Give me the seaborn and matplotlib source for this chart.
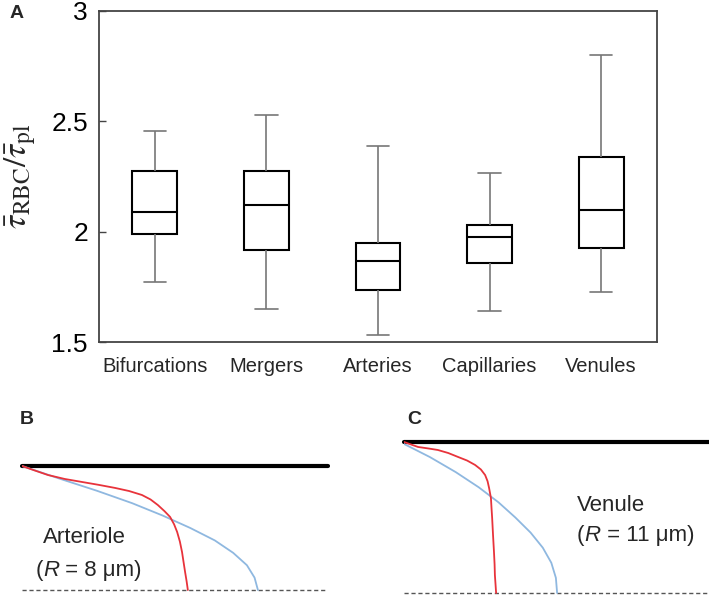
import numpy as np
import pandas as pd
import matplotlib
matplotlib.use("Agg")
import matplotlib.pyplot as plt
from matplotlib.offsetbox import TextArea, HPacker, AnnotationBbox
import seaborn as sns

# panel A: box summaries (low whisker, Q1, median, Q3, high whisker)
vessels = ["Bifurcations", "Mergers", "Arteries", "Capillaries", "Venules"]
low = [1.77, 1.65, 1.53, 1.64, 1.725]
q1 = [1.99, 1.915, 1.735, 1.86, 1.925]
med = [2.088, 2.12, 1.866, 1.975, 2.097]
q3 = [2.273, 2.273, 1.95, 2.03, 2.34]
high = [2.455, 2.53, 2.387, 2.264, 2.80]

# panel B: arteriole profiles (x = velocity, y = r/R, 1 = wall, 0 = centre)
art_rbc_x = [0, 0.04, 0.085, 0.14, 0.196, 0.25, 0.304, 0.35, 0.392, 0.42, 0.444,
             0.466, 0.484, 0.497, 0.507, 0.516, 0.523, 0.528, 0.533, 0.538, 0.542]
art_rbc_y = [1, 0.965, 0.927, 0.895, 0.871, 0.848, 0.823, 0.798, 0.766, 0.73, 0.685,
             0.635, 0.589, 0.53, 0.468, 0.39, 0.306, 0.225, 0.145, 0.07, 0]
art_pl_x = [0, 0.12, 0.245, 0.36, 0.46, 0.55, 0.63, 0.69, 0.735, 0.76, 0.771]
art_pl_y = [1, 0.9, 0.8, 0.7, 0.6, 0.5, 0.4, 0.3, 0.2, 0.1, 0]

# panel C: venule profiles
ven_rbc_x = [0, 0.046, 0.08, 0.111, 0.145, 0.177, 0.207, 0.233, 0.252, 0.266, 0.274,
             0.279, 0.285, 0.287, 0.289, 0.292, 0.295, 0.297, 0.298, 0.300, 0.302]
ven_rbc_y = [1, 0.967, 0.957, 0.947, 0.927, 0.901, 0.877, 0.848, 0.818, 0.781, 0.74,
             0.695, 0.629, 0.56, 0.497, 0.38, 0.272, 0.19, 0.119, 0.06, 0]
ven_pl_x = [0, 0.085, 0.17, 0.245, 0.31, 0.365, 0.415, 0.455, 0.483, 0.498, 0.502]
ven_pl_y = [0.987, 0.9, 0.8, 0.7, 0.6, 0.5, 0.4, 0.3, 0.2, 0.1, 0]

sns.set_style("white")
plt.rcParams["font.family"] = ["Liberation Sans", "DejaVu Sans"]
plt.rcParams["mathtext.fontset"] = "stix"

rows = []
for i, v in enumerate(vessels):
    for val in (low[i], q1[i], med[i], q3[i], high[i]):
        rows.append({"vessel": v, "ratio": val})
df = pd.DataFrame(rows)

fig = plt.figure(figsize=(7.09, 5.96), dpi=100)

# ---- A
ax = fig.add_axes([99 / 709, 1 - 342 / 596, 558 / 709, 331 / 596])
sns.boxplot(data=df, x="vessel", y="ratio", order=vessels, whis=(0, 100),
            width=0.4, color="white", linecolor="black", linewidth=1.5,
            showfliers=False, ax=ax,
            whiskerprops=dict(color="#777777", linewidth=1.2),
            capprops=dict(color="#777777", linewidth=1.2))
ax.set_ylim(1.5, 3)
ax.set_xlim(-0.5, 4.5)
ax.set_yticks([1.5, 2, 2.5, 3])
ax.set_yticklabels(["1.5", "2", "2.5", "3"], fontsize=19)
ax.tick_params(axis="y", direction="in", length=5, width=1, pad=8, colors="#444444",
               labelcolor="black", left=True)
ax.tick_params(axis="x", length=0, pad=11, labelsize=14.5)
ax.set_xlabel("")
ax.set_ylabel(r"$\bar{\tau}_{\rm RBC}/\bar{\tau}_{\rm pl}$", fontsize=24)
ax.yaxis.set_label_coords(-0.11, 0.5)
for s in ax.spines.values():
    s.set_visible(True)
    s.set_color("#444444")
    s.set_linewidth(1.3)

fig.text(10 / 709, 1 - 14 / 596, "A", fontsize=14, fontweight="bold", va="center")


def radius_label(axis, x, y, value):
    # "(R = .. μm)" with a sans-serif italic R
    parts = [TextArea("(", textprops=dict(fontsize=16)),
             TextArea("R", textprops=dict(fontsize=16, style="italic")),
             TextArea(" = " + value + " μm)", textprops=dict(fontsize=16))]
    box = HPacker(children=parts, align="baseline", pad=0, sep=0)
    ab = AnnotationBbox(box, (x, y), xycoords="data", box_alignment=(0, 0.5),
                        frameon=False, pad=0)
    axis.add_artist(ab)


# ---- B
axb = fig.add_axes([22 / 709, 1 - 595 / 596, 306 / 709, 134 / 596])
axb.set_xlim(0, 1)
axb.set_ylim(-0.04, 1.04)
axb.axhline(1, color="black", lw=3, clip_on=False)
axb.axhline(0, color="#555555", lw=1, ls=(0, (3, 2)))
sns.lineplot(x=art_pl_x, y=art_pl_y, sort=False, estimator=None, color="#8fb8e0",
             lw=1.3, ax=axb)
sns.lineplot(x=art_rbc_x, y=art_rbc_y, sort=False, estimator=None, color="#e8333b",
             lw=1.3, ax=axb)
axb.text(0.068, 0.42, "Arteriole", fontsize=16, va="center")
radius_label(axb, 0.045, 0.16, "8")
axb.axis("off")
fig.text(20 / 709, 1 - 420 / 596, "B", fontsize=14, fontweight="bold", va="center")

# ---- C
axc = fig.add_axes([404 / 709, 0, 305 / 709, 159 / 596])
axc.set_xlim(0, 1)
axc.set_ylim(-0.02, 1.033)
axc.axhline(1, color="black", lw=3, clip_on=False)
axc.axhline(0, color="#555555", lw=1, ls=(0, (3, 2)))
sns.lineplot(x=ven_pl_x, y=ven_pl_y, sort=False, estimator=None, color="#8fb8e0",
             lw=1.3, ax=axc)
sns.lineplot(x=ven_rbc_x, y=ven_rbc_y, sort=False, estimator=None, color="#e8333b",
             lw=1.3, ax=axc)
axc.text(0.567, 0.58, "Venule", fontsize=16, va="center")
radius_label(axc, 0.567, 0.38, "11")
axc.axis("off")
fig.text(407 / 709, 1 - 420 / 596, "C", fontsize=14, fontweight="bold", va="center")

fig.savefig("out.png", dpi=100)
